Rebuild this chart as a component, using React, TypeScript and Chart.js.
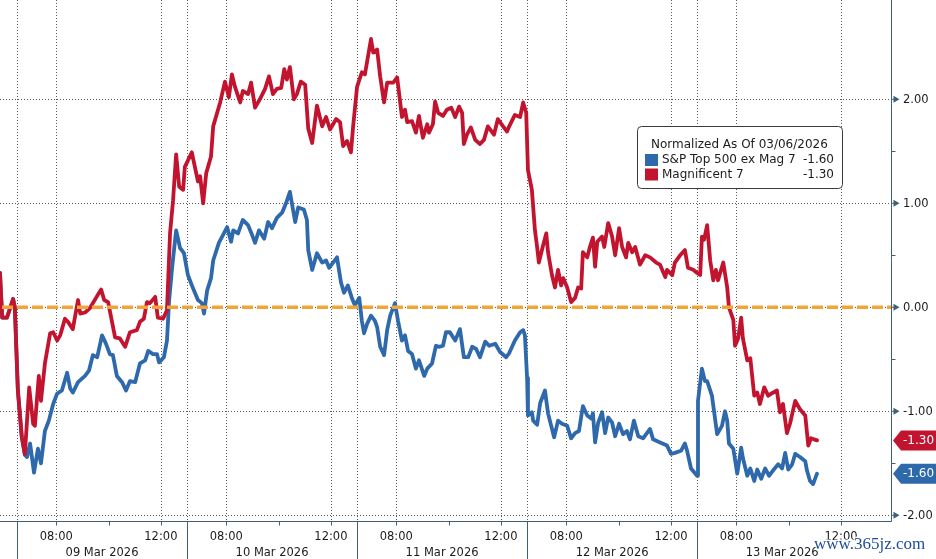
import React, { useEffect, useRef } from "react";
import { Chart, registerables } from "chart.js";

Chart.register(...registerables);

// ---------- data ----------
const dayLabels = ["09 Mar 2026", "10 Mar 2026", "11 Mar 2026", "12 Mar 2026", "13 Mar 2026"];
const timeTickLabels = ["08:00", "12:00"];
const timeTickMinutes = [90, 330]; // minutes after session open (06:30)
const minorTickMinutes = [210]; // 10:00
const sessionMinutes = 390;
const yTicks = [-2, -1, 0, 1, 2];
const yMinorTicks = [-1.5, -0.5, 0.5, 1.5];
const seriesNames = ["S&P Top 500 ex Mag 7", "Magnificent 7"];
const legendValues = [-1.6, -1.3];
const legendTitle = "Normalized As Of 03/06/2026";
const referenceLevel = 0;

// [trading minute since 09 Mar open, normalized value]
const blueSeries: number[][] = [
  [-39, 0.33], [-34, -0.1], [-23, -0.1], [-9, 0.08], [-5, 0.0], [2, -0.8], [11, -1.25], [18, -1.42], [23, -1.44], [30, -1.31],
  [39, -1.59], [48, -1.36], [55, -1.5], [64, -1.19], [73, -1.09], [83, -0.93], [92, -0.83], [103, -0.8], [115, -0.63], [122, -0.78],
  [128, -0.82], [140, -0.72], [156, -0.66], [165, -0.61], [174, -0.46], [184, -0.48], [195, -0.27], [204, -0.35], [213, -0.45], [220, -0.46],
  [229, -0.66], [241, -0.72], [250, -0.8], [259, -0.71], [271, -0.72], [282, -0.54], [294, -0.51], [301, -0.42], [312, -0.45], [321, -0.45],
  [326, -0.53], [337, -0.48], [344, -0.32], [349, 0.07], [356, 0.39], [365, 0.74], [374, 0.57], [383, 0.52], [392, 0.31], [404, 0.18],
  [415, 0.07], [424, 0.04], [429, -0.06], [436, 0.16], [445, 0.28], [450, 0.45], [463, 0.62], [482, 0.77], [491, 0.63], [496, 0.74],
  [507, 0.71], [518, 0.84], [530, 0.79], [537, 0.72], [546, 0.62], [555, 0.74], [567, 0.66], [576, 0.82], [585, 0.76], [596, 0.86],
  [608, 0.91], [617, 1.0], [626, 1.11], [638, 0.82], [645, 0.96], [658, 0.94], [665, 0.84], [668, 0.55], [677, 0.36], [688, 0.52],
  [700, 0.43], [709, 0.45], [716, 0.38], [725, 0.43], [734, 0.48], [743, 0.24], [750, 0.14], [759, 0.21], [768, 0.09], [775, 0.02],
  [785, 0.09], [791, -0.13], [796, -0.25], [803, -0.16], [812, -0.08], [821, -0.13], [826, -0.19], [833, -0.38], [842, -0.46], [849, -0.22],
  [856, -0.08], [867, 0.04], [874, -0.13], [883, -0.32], [890, -0.27], [897, -0.42], [906, -0.45], [915, -0.59], [922, -0.51], [934, -0.66],
  [941, -0.59], [952, -0.54], [961, -0.37], [968, -0.38], [977, -0.37], [984, -0.24], [993, -0.24], [1005, -0.32], [1016, -0.21], [1025, -0.48],
  [1035, -0.48], [1044, -0.38], [1053, -0.4], [1062, -0.48], [1074, -0.33], [1083, -0.37], [1097, -0.35], [1108, -0.43], [1122, -0.48], [1129, -0.44],
  [1142, -0.32], [1154, -0.24], [1161, -0.22], [1165, -0.27], [1170, -0.68], [1172, -1.04], [1181, -1.01], [1184, -1.09], [1193, -1.13], [1200, -0.92],
  [1211, -0.8], [1218, -1.02], [1232, -1.25], [1241, -1.09], [1250, -1.12], [1262, -1.14], [1271, -1.26], [1280, -1.21], [1289, -1.19], [1298, -0.95],
  [1308, -1.04], [1317, -1.07], [1321, -1.02], [1326, -1.3], [1333, -1.11], [1342, -1.01], [1349, -1.21], [1356, -1.06], [1365, -1.11], [1372, -1.24],
  [1381, -1.12], [1390, -1.22], [1399, -1.19], [1406, -1.27], [1415, -1.09], [1425, -1.24], [1436, -1.26], [1452, -1.17], [1459, -1.27], [1475, -1.3],
  [1491, -1.33], [1500, -1.41], [1509, -1.4], [1523, -1.38], [1532, -1.31], [1537, -1.38], [1546, -1.55], [1560, -1.62], [1562, -0.9], [1571, -0.59],
  [1578, -0.71], [1583, -0.71], [1594, -0.85], [1606, -1.22], [1617, -1.14], [1624, -1.0], [1629, -1.09], [1633, -1.31], [1643, -1.36], [1652, -1.6],
  [1661, -1.35], [1665, -1.45], [1675, -1.62], [1682, -1.55], [1691, -1.67], [1698, -1.56], [1707, -1.65], [1716, -1.55], [1725, -1.62], [1734, -1.57],
  [1746, -1.51], [1755, -1.55], [1762, -1.4], [1769, -1.56], [1778, -1.51], [1785, -1.41], [1796, -1.44], [1808, -1.48], [1812, -1.57], [1819, -1.67],
  [1826, -1.7], [1835, -1.6],
];

const redSeries: number[][] = [
  [-39, 0.33], [-34, -0.1], [-23, -0.1], [-9, 0.08], [-5, 0.0], [2, -0.8], [11, -1.25], [18, -1.41], [28, -0.77], [37, -1.12],
  [41, -1.14], [50, -0.66], [55, -0.9], [64, -0.54], [76, -0.25], [83, -0.24], [92, -0.32], [99, -0.27], [110, -0.11], [117, -0.14],
  [128, -0.21], [140, 0.07], [145, -0.06], [156, -0.05], [167, -0.01], [184, 0.11], [193, 0.17], [200, 0.07], [209, 0.05], [225, -0.29],
  [236, -0.3], [248, -0.38], [259, -0.24], [275, -0.22], [282, -0.14], [291, -0.11], [298, 0.05], [305, 0.04], [317, 0.1], [323, -0.1],
  [335, -0.11], [344, -0.03], [351, 0.71], [358, 1.03], [365, 1.47], [372, 1.16], [381, 1.13], [385, 1.35], [401, 1.49], [415, 1.21],
  [420, 1.26], [427, 1.0], [434, 1.29], [445, 1.45], [450, 1.74], [466, 1.97], [477, 2.17], [486, 2.02], [493, 2.24], [500, 2.12],
  [512, 1.97], [518, 2.08], [530, 2.05], [537, 2.16], [546, 1.92], [557, 2.0], [569, 2.1], [578, 2.22], [587, 2.05], [596, 2.1],
  [606, 2.11], [613, 2.29], [619, 2.19], [626, 2.31], [635, 2.0], [642, 2.05], [651, 2.17], [661, 2.14], [668, 1.72], [677, 1.58],
  [688, 1.94], [700, 1.74], [709, 1.83], [718, 1.71], [732, 1.81], [741, 1.78], [748, 1.55], [757, 1.6], [766, 1.49], [771, 1.74],
  [780, 2.12], [791, 2.26], [798, 2.24], [812, 2.58], [817, 2.45], [826, 2.48], [833, 2.22], [842, 1.97], [849, 2.16], [863, 2.16],
  [872, 2.21], [883, 1.83], [890, 1.9], [895, 1.78], [906, 1.79], [915, 1.68], [922, 1.84], [931, 1.63], [941, 1.76], [945, 1.68],
  [954, 1.76], [959, 1.98], [966, 1.87], [977, 1.84], [986, 1.9], [996, 1.92], [1005, 1.83], [1014, 1.93], [1021, 1.87], [1025, 1.57],
  [1032, 1.66], [1041, 1.73], [1051, 1.61], [1062, 1.57], [1071, 1.61], [1080, 1.74], [1094, 1.66], [1103, 1.81], [1115, 1.74], [1124, 1.69],
  [1129, 1.74], [1142, 1.85], [1154, 1.83], [1161, 1.97], [1168, 1.87], [1172, 1.32], [1181, 1.13], [1188, 0.74], [1193, 0.58], [1197, 0.43],
  [1207, 0.6], [1214, 0.71], [1218, 0.53], [1227, 0.31], [1234, 0.19], [1241, 0.36], [1248, 0.21], [1253, 0.28], [1262, 0.19], [1271, 0.05],
  [1280, 0.09], [1287, 0.19], [1294, 0.18], [1298, 0.53], [1308, 0.48], [1314, 0.58], [1321, 0.67], [1326, 0.39], [1331, 0.63], [1342, 0.68],
  [1347, 0.58], [1356, 0.81], [1365, 0.68], [1372, 0.5], [1381, 0.76], [1388, 0.58], [1397, 0.48], [1402, 0.62], [1411, 0.53], [1418, 0.58],
  [1429, 0.41], [1441, 0.5], [1452, 0.48], [1466, 0.43], [1475, 0.41], [1487, 0.29], [1491, 0.36], [1503, 0.31], [1509, 0.43], [1521, 0.5],
  [1532, 0.55], [1539, 0.38], [1551, 0.36], [1560, 0.33], [1567, 0.31], [1571, 0.68], [1576, 0.65], [1583, 0.79], [1590, 0.45], [1597, 0.26],
  [1603, 0.36], [1608, 0.26], [1620, 0.43], [1629, 0.19], [1633, 0.0], [1643, -0.12], [1647, -0.37], [1654, -0.3], [1661, -0.1], [1665, -0.3],
  [1675, -0.51], [1682, -0.49], [1691, -0.85], [1698, -0.82], [1704, -0.93], [1714, -0.77], [1723, -0.85], [1734, -0.82], [1743, -0.8], [1750, -1.01],
  [1757, -0.93], [1766, -1.21], [1773, -1.12], [1785, -0.9], [1796, -0.98], [1808, -1.04], [1815, -1.33], [1821, -1.26], [1835, -1.28],
];

// axis ranges
const X_MIN = -39;
const X_MAX = 2007;
const Y_MIN = -2.06;
const Y_MAX = 2.955;

// ---------- style ----------
const W = 936;
const H = 559;
const RED = "#c3142f";
const BLUE = "#2e69ab";
const ORANGE = "#f4a437";
const GRID = "#5a5a5a";
const AXIS = "#3f5f78";
const TEXT = "#1c1c1c";
const FONT = '"DejaVu Sans", Verdana, sans-serif';
const LINE_W = 3.8;

const decor = {
  id: "decor",
  beforeDatasetsDraw(chart: any) {
    const { ctx, chartArea: a, scales } = chart;
    const xs = scales.x;
    const ys = scales.y;
    const crisp = (v: number) => Math.round(v) + 0.5;
    ctx.save();
    // dotted grid
    ctx.lineWidth = 1;
    ctx.strokeStyle = GRID;
    ctx.setLineDash([1, 2]);
    for (let d = 0; d < dayLabels.length; d++) {
      [0, ...timeTickMinutes].forEach((off) => {
        const px = crisp(xs.getPixelForValue(d * sessionMinutes + off));
        if (px > a.left && px < a.right) {
          ctx.beginPath();
          ctx.moveTo(px, a.top);
          ctx.lineTo(px, a.bottom);
          ctx.stroke();
        }
      });
    }
    yTicks.forEach((v) => {
      const py = crisp(ys.getPixelForValue(v));
      ctx.beginPath();
      ctx.moveTo(a.left, py);
      ctx.lineTo(a.right, py);
      ctx.stroke();
    });
    ctx.setLineDash([]);

    // axis lines
    const bottom = Math.floor(a.bottom) + 0.5;
    const right = Math.floor(a.right) - 0.5;
    ctx.strokeStyle = AXIS;
    ctx.beginPath();
    ctx.moveTo(a.left, bottom);
    ctx.lineTo(right, bottom);
    ctx.moveTo(right, a.top);
    ctx.lineTo(right, bottom);
    ctx.stroke();

    // x axis: day separators, ticks and labels
    ctx.fillStyle = TEXT;
    ctx.font = `11.5px ${FONT}`;
    ctx.textAlign = "center";
    ctx.textBaseline = "middle";
    for (let d = 0; d < dayLabels.length; d++) {
      const start = xs.getPixelForValue(d * sessionMinutes);
      const end = xs.getPixelForValue((d + 1) * sessionMinutes);
      const sx = crisp(start);
      ctx.beginPath();
      ctx.moveTo(sx, bottom);
      ctx.lineTo(sx, H);
      ctx.stroke();
      [...timeTickMinutes, ...minorTickMinutes].forEach((off) => {
        const px = crisp(xs.getPixelForValue(d * sessionMinutes + off));
        ctx.beginPath();
        ctx.moveTo(px, bottom);
        ctx.lineTo(px, bottom + 4);
        ctx.stroke();
      });
      timeTickMinutes.forEach((off, i) => {
        const px = xs.getPixelForValue(d * sessionMinutes + off);
        ctx.fillText(timeTickLabels[i], px, bottom + 15.5);
      });
      ctx.fillText(dayLabels[d], (start + end) / 2, bottom + 31.5);
    }

    // y axis: arrow ticks, minor ticks, labels
    ctx.textAlign = "left";
    yTicks.forEach((v) => {
      const py = ys.getPixelForValue(v);
      ctx.fillStyle = AXIS;
      ctx.beginPath();
      ctx.moveTo(right, py - 0.5);
      ctx.lineTo(right + 2, py - 0.5);
      ctx.lineTo(right + 2, py - 3.5);
      ctx.lineTo(right + 8, py);
      ctx.lineTo(right + 2, py + 3.5);
      ctx.lineTo(right + 2, py + 0.5);
      ctx.lineTo(right, py + 0.5);
      ctx.closePath();
      ctx.fill();
      ctx.fillStyle = TEXT;
      ctx.fillText(v.toFixed(2), a.right + 11, py + 0.5);
    });
    yMinorTicks.forEach((v) => {
      const py = crisp(ys.getPixelForValue(v));
      ctx.beginPath();
      ctx.moveTo(right, py);
      ctx.lineTo(right + 4, py);
      ctx.stroke();
    });
    ctx.restore();
  },
  afterDatasetsDraw(chart: any) {
    const { ctx, chartArea: a, scales } = chart;
    const ys = scales.y;
    ctx.save();
    // reference line at 0
    const y0 = ys.getPixelForValue(referenceLevel);
    ctx.strokeStyle = ORANGE;
    ctx.lineWidth = 3.5;
    ctx.setLineDash([11, 4]);
    ctx.lineDashOffset = -2;
    ctx.beginPath();
    ctx.moveTo(a.left, y0);
    ctx.lineTo(a.right - 1, y0);
    ctx.stroke();
    ctx.setLineDash([]);

    // legend box
    const lx = 637.5, ly = 126.5, lw = 205, lh = 62, r = 4;
    ctx.fillStyle = "#ffffff";
    ctx.strokeStyle = "#3a3a3a";
    ctx.lineWidth = 1;
    ctx.beginPath();
    ctx.moveTo(lx + r, ly);
    ctx.lineTo(lx + lw - r, ly);
    ctx.arcTo(lx + lw, ly, lx + lw, ly + r, r);
    ctx.lineTo(lx + lw, ly + lh - r);
    ctx.arcTo(lx + lw, ly + lh, lx + lw - r, ly + lh, r);
    ctx.lineTo(lx + r, ly + lh);
    ctx.arcTo(lx, ly + lh, lx, ly + lh - r, r);
    ctx.lineTo(lx, ly + r);
    ctx.arcTo(lx, ly, lx + r, ly, r);
    ctx.closePath();
    ctx.fill();
    ctx.stroke();

    ctx.font = `12px ${FONT}`;
    ctx.textBaseline = "middle";
    ctx.fillStyle = TEXT;
    ctx.textAlign = "left";
    ctx.fillText(legendTitle, 651, 144.5);
    const colors = [BLUE, RED];
    const rowsY = [160, 174.5];
    seriesNames.forEach((name, i) => {
      ctx.fillStyle = colors[i];
      ctx.fillRect(645, rowsY[i] - 6, 13, 12);
      ctx.fillStyle = TEXT;
      ctx.textAlign = "left";
      ctx.fillText(name, 662, rowsY[i]);
      ctx.textAlign = "right";
      ctx.fillText(legendValues[i].toFixed(2), 834, rowsY[i]);
    });

    // last-value badges
    const lasts = [blueSeries[blueSeries.length - 1][1], redSeries[redSeries.length - 1][1]];
    const right = Math.floor(a.right) - 0.5;
    lasts.forEach((v, i) => {
      const py = ys.getPixelForValue(v);
      const tip = right + 1.5;
      ctx.fillStyle = colors[i];
      ctx.beginPath();
      ctx.moveTo(tip, py);
      ctx.lineTo(tip + 8, py - 10);
      ctx.lineTo(W, py - 10);
      ctx.lineTo(W, py + 10);
      ctx.lineTo(tip + 8, py + 10);
      ctx.closePath();
      ctx.fill();
      ctx.fillStyle = "#ffffff";
      ctx.font = `12px ${FONT}`;
      ctx.textAlign = "left";
      ctx.fillText(legendValues[i].toFixed(2), a.right + 11, py + 0.5);
    });
    ctx.restore();
  },
  afterDraw(chart: any) {
    const { ctx } = chart;
    ctx.save();
    ctx.font = '17px "Liberation Serif", "Times New Roman", serif';
    ctx.textAlign = "left";
    ctx.textBaseline = "alphabetic";
    ctx.lineWidth = 3;
    ctx.strokeStyle = "rgba(255,255,255,0.85)";
    ctx.strokeText("www.365jz.com", 814, 549);
    ctx.fillStyle = "#1d4c9c";
    ctx.fillText("www.365jz.com", 814, 549);
    ctx.restore();
  },
};

export default function App() {
  const ref = useRef<HTMLCanvasElement | null>(null);
  useEffect(() => {
    const canvas = ref.current;
    if (!canvas) return;
    const toPoints = (s: number[][]) => s.map(([x, y]) => ({ x, y }));
    const chart = new Chart(canvas, {
      type: "line",
      data: {
        datasets: [
          {
            label: seriesNames[1],
            data: toPoints(redSeries),
            borderColor: RED,
            borderWidth: LINE_W,
            pointRadius: 0,
            tension: 0,
            borderJoinStyle: "round",
            borderCapStyle: "round",
          },
          {
            label: seriesNames[0],
            data: toPoints(blueSeries),
            borderColor: BLUE,
            borderWidth: LINE_W,
            pointRadius: 0,
            tension: 0,
            borderJoinStyle: "round",
            borderCapStyle: "round",
          },
        ],
      },
      options: {
        animation: false,
        responsive: true,
        maintainAspectRatio: false,
        layout: { padding: 0 },
        plugins: { legend: { display: false }, tooltip: { enabled: false } },
        events: [],
        scales: {
          x: {
            type: "linear",
            min: X_MIN,
            max: X_MAX,
            grid: { display: false, drawTicks: false },
            border: { display: false },
            ticks: { display: false },
            afterFit(s: any) {
              s.height = 37.5;
              s.paddingLeft = 0;
              s.paddingRight = 0;
            },
          },
          y: {
            type: "linear",
            position: "right",
            min: Y_MIN,
            max: Y_MAX,
            grid: { display: false, drawTicks: false },
            border: { display: false },
            ticks: { display: false },
            afterFit(s: any) {
              s.width = 44;
              s.paddingTop = 0;
              s.paddingBottom = 0;
            },
          },
        },
      } as any,
      plugins: [decor],
    });
    return () => chart.destroy();
  }, []);

  return (
    <div style={{ position: "fixed", left: 0, top: 0, width: W, height: H, background: "#ffffff" }}>
      <canvas ref={ref} />
    </div>
  );
}
